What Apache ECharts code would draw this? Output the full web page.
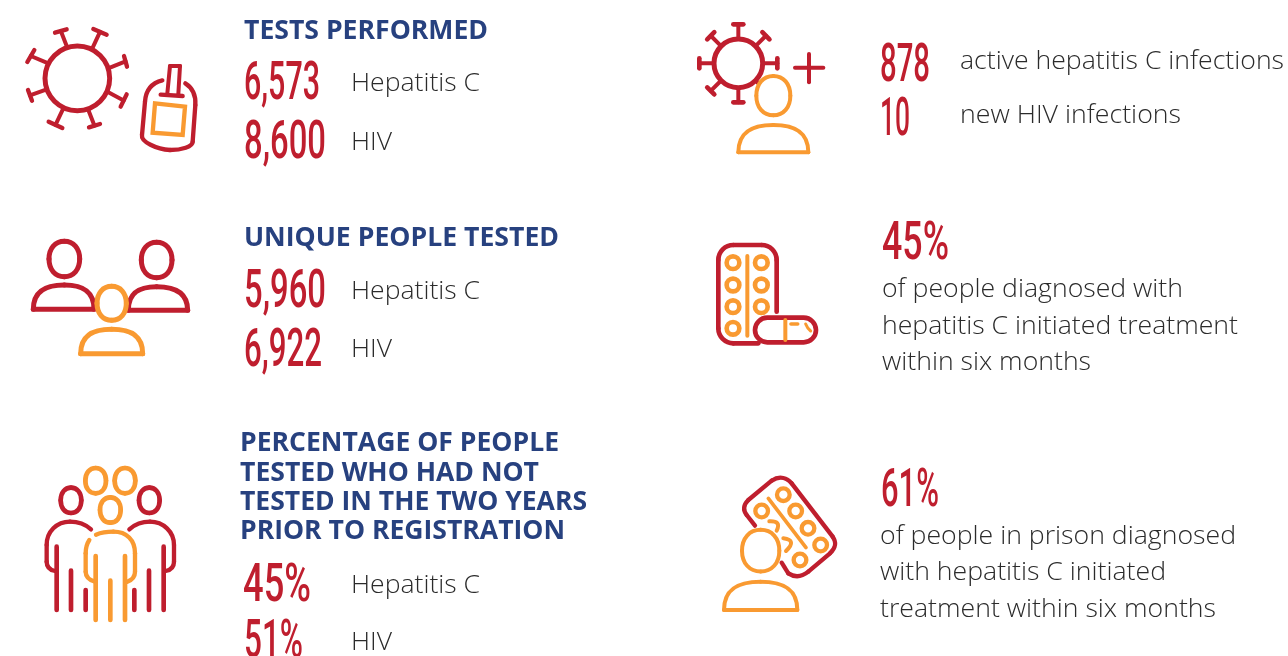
<!DOCTYPE html>
<html><head><meta charset="utf-8">
<style>html,body{margin:0;padding:0;background:#fff}#c{width:1288px;height:656px}</style>
<script src="https://cdn.jsdelivr.net/npm/echarts@6/dist/echarts.min.js"></script>
</head><body><div id="c"></div>
<script>
const headings1 = ['TESTS PERFORMED'];
const headings2 = ['UNIQUE PEOPLE TESTED'];
const headings3 = ['PERCENTAGE OF PEOPLE','TESTED WHO HAD NOT','TESTED IN THE TWO YEARS','PRIOR TO REGISTRATION'];
const diseaseLabels = ['Hepatitis C','HIV'];
const testsPerformed = ['6,573','8,600'];
const uniquePeople = ['5,960','6,922'];
const notTestedPct = ['45%','51%'];
const infectionValues = ['878','10'];
const infectionLabels = ['active hepatitis C infections','new HIV infections'];
const treatedPct = ['45%'];
const treatedLines = ['of people diagnosed with','hepatitis C initiated treatment','within six months'];
const prisonPct = ['61%'];
const prisonLines = ['of people in prison diagnosed','with hepatitis C initiated','treatment within six months'];

const RED='#bf1e2e', ORANGE='#f99a31', BLUE='#27417f', INK='#2b2b2b';
const mc=document.createElement('canvas').getContext('2d');
function text(s,x,y,w,font,color){
  mc.font=font; const sx=w/mc.measureText(s).width;
  return {type:'text',x,y,scaleX:sx,silent:true,style:{text:s,font,fill:color,textAlign:'left',textVerticalAlign:'middle',textBaseline:'middle'}};
}
const NUM='500 53px Roboto', BODY='300 26px "Open Sans"';
const els=[];
const heading=(s,x,y,w)=>els.push(text(s,x,y+2,w,'700 27px "Open Sans"',BLUE));
const num=(s,x,y,w)=>els.push(text(s,x,y+3,w,NUM,RED));
const body=(s,x,y,w)=>els.push(text(s,x,y+2,w,BODY,INK));

heading(headings1[0],244,29,244);
num(testsPerformed[0],244,83,76); body(diseaseLabels[0],351,82,129);
num(testsPerformed[1],244,142,82); body(diseaseLabels[1],351,141,41);
heading(headings2[0],244,236,315);
num(uniquePeople[0],244,291,82); body(diseaseLabels[0],351,290,129);
num(uniquePeople[1],244,350,78); body(diseaseLabels[1],351,348,41);
[[441,319],[471,299],[500,347],[529,325]].forEach((r,i)=>heading(headings3[i],240,r[0],r[1]));
num(notTestedPct[0],243,585,68); body(diseaseLabels[0],351,584,129);
num(notTestedPct[1],244,641,59); body(diseaseLabels[1],351,641,41);
num(infectionValues[0],880,65,50); body(infectionLabels[0],960,60,324);
num(infectionValues[1],880,119,30); body(infectionLabels[1],960,114,221);
num(treatedPct[0],882,243,67);
[[288,301],[325,356],[361,209]].forEach((r,i)=>body(treatedLines[i],882,r[0],r[1]));
num(prisonPct[0],881,490,58);
[[535,356],[571,286],[608,336]].forEach((r,i)=>body(prisonLines[i],880,r[0],r[1]));

// icon drawing helpers, in 3x crop coordinates
function st(c,lw,fill){return {stroke:c,lineWidth:lw,fill:fill||'none',lineCap:'round',lineJoin:'round'};}
function P(c,lw,pts){
  const out=[];let [x,y]=pts[0];
  for(let i=1;i<pts.length;i++){const p=pts[i];
    if(p.length===2){out.push({type:'line',shape:{x1:x,y1:y,x2:p[0],y2:p[1]},style:st(c,lw)});[x,y]=p;}
    else if(p.length===4){out.push({type:'bezierCurve',shape:{x1:x,y1:y,cpx1:p[0],cpy1:p[1],x2:p[2],y2:p[3]},style:st(c,lw)});x=p[2];y=p[3];}
    else{out.push({type:'bezierCurve',shape:{x1:x,y1:y,cpx1:p[0],cpy1:p[1],cpx2:p[2],cpy2:p[3],x2:p[4],y2:p[5]},style:st(c,lw)});x=p[4];y=p[5];}
  }
  return out;
}
const ring=(cx,cy,r,c,lw,fill)=>({type:'circle',shape:{cx,cy,r},style:st(c,lw,fill)});
function head(cx,cy,w,h,c,lw){
  const a=w/2,b=h/2,k=0.6;
  return [{type:'ellipse',shape:{cx,cy,rx:a,ry:b},style:{fill:'#fff'}},
    ...P(c,lw,[[cx-a,cy],[cx-a,cy-b*k,cx-a*k,cy-b,cx,cy-b],[cx+a*k,cy-b,cx+a,cy-b*k,cx+a,cy],[cx+a,cy+b*k,cx+a*k,cy+b,cx,cy+b],[cx-a*k,cy+b,cx-a,cy+b*k,cx-a,cy]])];
}
function person(cx,hy,hw,hh,L,R,top,bot,c,lw){
  const k=(R-L)/2, out=[];
  out.push({type:'polygon',shape:{points:[[L,bot],[R,bot],[cx,top]]},style:{fill:'#fff'}});
  out.push(...P(c,lw,[[L,bot],[L,top+(bot-top)*0.2,cx-k*0.55,top,cx,top],[cx+k*0.55,top,R,top+(bot-top)*0.2,R,bot],[L,bot]]));
  out.push(...head(cx,hy,hw,hh,c,lw));
  return out;
}
function group(x,y,children){els.push({type:'group',x,y,scaleX:1/3,scaleY:1/3,silent:true,children});}

// 1. virus + test vial
const spikes1=[[165,98,200,88,200,138],[280,87,320,104,277,145],[372,168,381,200,330,203],[380,283,362,320,325,277],[267,382,300,372,265,330],[146,365,187,384,190,325],[84,270,96,302,140,268],[82,186,103,150,145,190]];
const g1=[ring(232,235,97,RED,15)];
spikes1.forEach(s=>{g1.push(...P(RED,13,[[s[0],s[1]],[s[2],s[3]]]));g1.push(...P(RED,12,[[(s[0]+s[2])/2,(s[1]+s[3])/2],[s[4],s[5]]]));});
g1.push(...P(RED,13,[[487,241],[450,250,437,275,435,305],[426,405],[422,425,470,448,510,450],[545,450,578,440,578,425],[586,315],[588,285,575,262,556,250]]));
g1.push(...P(RED,12,[[502,280],[510,198],[540,198],[535,282]]));
g1.push(...P(RED,13,[[482,284],[548,288]]));
g1.push({type:'polygon',shape:{points:[[465,310],[555,320],[548,405],[458,398]]},style:{stroke:ORANGE,lineWidth:13,fill:'none',lineJoin:'miter'}});
group(0,0,g1);

// 2. three people
group(0,210,[
  ...person(193,147,92,106,100,282,225,298,RED,15),
  ...person(470,150,92,106,385,563,230,301,RED,15),
  ...person(335,280,88,102,242,428,358,431,ORANGE,15)
]);

// 3. crowd
const g3=[];
[[213,181,RED],[448,181,RED],[287,122,ORANGE],[375,122,ORANGE],[331,210,ORANGE]].forEach(h=>g3.push(...head(h[0],h[1],62,76,h[2],14)));
g3.push(...P(RED,13,[[273,268],[255,252,235,245,210,245],[170,245,140,275,140,315],[140,365],[140,380,150,390,165,393]]));
g3.push(...P(RED,13,[[388,268],[406,252,426,245,450,245],[490,245,522,275,522,315],[522,365],[522,380,512,390,497,393]]));
[[170,320],[213,392],[257,450],[403,450],[447,392],[491,320]].forEach(l=>g3.push(...P(RED,14,[[l[0],l[1]],[l[0],510]])));
g3.push(...P(ORANGE,13,[[288,284],[305,277,325,275,340,275],[380,275,405,300,405,340],[405,395],[405,410,395,420,382,425]]));
g3.push(...P(ORANGE,13,[[268,300],[260,312,257,325,257,340],[257,395],[257,410,268,420,285,425]]));
[[287,348],[331,422],[375,348]].forEach(l=>g3.push(...P(ORANGE,14,[[l[0],l[1]],[l[0],540]])));
group(0,440,g3);

// 4. virus + person
const g4=[ring(175,160,73,RED,15)];
[0,45,90,135,180,225,270,315].forEach(a=>{const t=a*Math.PI/180,c=Math.cos(t),s=Math.sin(t),R0=75,R1=117,h=15,X=175+R1*c,Y=160+R1*s;
  g4.push(...P(RED,12,[[175+R0*c,160+R0*s],[X,Y]]));
  g4.push(...P(RED,14,[[X-h*s,Y+h*c],[X+h*s,Y-h*c]]));});
g4.push(...P(RED,12,[[345,173],[430,173]]),...P(RED,12,[[387,132],[387,217]]));
g4.push(...person(280,257,102,118,175,385,345,427,ORANGE,12));
group(680,10,g4);

// 5. blister pack + capsule
const g5=[];
g5.push(...P(RED,14,[[260,260],[260,105],[260,80,240,60,215,60],[130,60],[105,60,85,80,85,105],[85,310],[85,335,105,355,130,355],[205,355]]));
[[129,113],[214,113],[129,180],[214,180],[129,245],[214,245],[129,310]].forEach(p=>g5.push(ring(p[0],p[1],19,ORANGE,14)));
g5.push(...P(ORANGE,12,[[172,93],[172,332]]));
g5.push({type:'rect',shape:{x:195,y:278,width:183,height:74,r:37},style:st(RED,14,'#fff')});
g5.push(...P(ORANGE,12,[[286,285],[286,345]]),...P(ORANGE,11,[[303,297],[323,297]]),...P(ORANGE,9,[[347,297],[352,310,362,318]]));
group(690,225,g5);

// 6. tilted pack + person
const g6=[];
g6.push(...P(RED,13,[[165,197],[140,165],[125,145,135,130,145,120],[215,62],[240,45,262,55,275,70],[398,230],[412,250,405,265,390,280],[325,335],[300,355,280,350,265,340],[245,308]]));
[[250,104],[185,153],[287,153],[324,205],[362,255],[300,300]].forEach(p=>g6.push(ring(p[0],p[1],19,ORANGE,13)));
g6.push(...P(ORANGE,11,[[205,115],[318,263]]));
g6.push(...P(ORANGE,12,[[208,184],[245,182,230,212]]),...P(ORANGE,12,[[250,235],[292,240,258,273]]));
g6.push(...person(182,272,112,125,72,292,365,450,ORANGE,12));
group(700,460,g6);

const chart=echarts.init(document.getElementById('c'));
chart.setOption({animation:false,backgroundColor:'#fff',graphic:{elements:els}});
</script></body></html>
